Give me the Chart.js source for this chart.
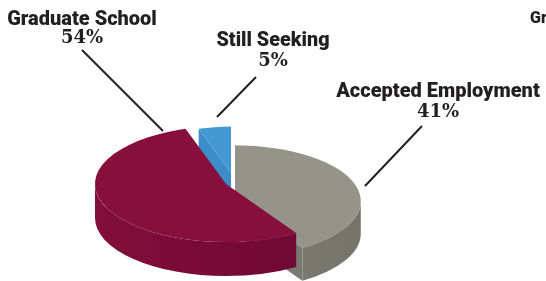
<!DOCTYPE html>
<html>
<head>
<meta charset="utf-8">
<script src="https://cdn.jsdelivr.net/npm/chart.js@4"></script>
<style>
  html, body { margin: 0; padding: 0; background: #fff; overflow: hidden; }
  #wrap { width: 546px; height: 281px; position: relative; }
</style>
</head>
<body>
<div id="wrap"><canvas id="pieChart"></canvas></div>
<script>
const categories = ['Accepted Employment', 'Graduate School', 'Still Seeking'];
const shares = [41, 54, 5];
const topColors = ['#95948a', '#870f3b', '#4498d4'];
const wallColors = [['#8c8b81', '#74746a'], ['#820e39', '#6a0731'], ['#3f91cd', '#3787c4']];

// squash + thickness for the fake 3D disc
const TILT = 0.443;
const DEPTH = 34;
// how far each slice is pulled out (screen px) and a fake-perspective size factor
const pullOut = [[9, 17], [0, 0], [5, -11]];
const sliceScale = [0.96, 1, 0.8];
const drawOrder = [2, 0, 1];

// where the callouts sit
const labelSpots = [
  { x: 438, y: 97, py: 117, w: 207, line: [422, 126, 365, 186] },
  { x: 82, y: 25, py: 43, w: 151, line: [82, 50, 163, 131] },
  { x: 273, y: 46, py: 66, w: 113, line: [256, 77, 217, 117] }
];

const fake3d = {
  id: 'fake3d',
  beforeDatasetsDraw(chart) {
    const ctx = chart.ctx;
    const arcs = chart.getDatasetMeta(0).data;
    drawOrder.forEach(i => {
      const arc = arcs[i];
      const k = sliceScale[i];
      const R = arc.outerRadius * k;
      const D = DEPTH * k;
      const X = arc.x + pullOut[i][0];
      const Y = arc.y + pullOut[i][1];
      const a0 = arc.startAngle, a1 = arc.endAngle;
      const rim = a => [X + R * Math.cos(a), Y + R * TILT * Math.sin(a)];

      const grad = ctx.createLinearGradient(X - R, 0, X + R, 0);
      grad.addColorStop(0, wallColors[i][0]);
      grad.addColorStop(1, wallColors[i][1]);
      ctx.save();
      ctx.fillStyle = grad;

      // cut faces that look toward the viewer
      [[a0, Math.cos(a0) < -0.01], [a1, Math.cos(a1) > 0.01]].forEach(([a, show]) => {
        if (!show) return;
        const [rx, ry] = rim(a);
        ctx.beginPath();
        ctx.moveTo(X, Y);
        ctx.lineTo(rx, ry);
        ctx.lineTo(rx, ry + D);
        ctx.lineTo(X, Y + D);
        ctx.closePath();
        ctx.fill();
      });

      // front part of the outer wall
      for (let n = -1; n <= 1; n++) {
        const lo = Math.max(a0, 2 * Math.PI * n);
        const hi = Math.min(a1, Math.PI + 2 * Math.PI * n);
        if (hi <= lo) continue;
        ctx.beginPath();
        ctx.ellipse(X, Y, R, R * TILT, 0, lo, hi);
        ctx.ellipse(X, Y + D, R, R * TILT, 0, hi, lo, true);
        ctx.closePath();
        ctx.fill();
      }
      ctx.restore();

      // top face: the library's own arc, squashed
      ctx.save();
      ctx.translate(X, Y);
      ctx.scale(k, TILT * k);
      ctx.translate(-arc.x, -arc.y);
      arc.draw(ctx);
      ctx.restore();
    });
    return false;
  }
};

const callouts = {
  id: 'callouts',
  afterDraw(chart) {
    const ctx = chart.ctx;
    ctx.save();
    ctx.fillStyle = '#231f20';
    ctx.strokeStyle = '#231f20';
    ctx.textAlign = 'center';
    ctx.textBaseline = 'alphabetic';
    categories.forEach((name, i) => {
      const s = labelSpots[i];
      ctx.font = '900 20px Roboto';
      ctx.fillText(name, s.x, s.y, s.w);
      ctx.font = 'bold 18px "DejaVu Serif"';
      ctx.fillText(shares[i] + '%', s.x, s.py);
      ctx.lineWidth = 2;
      ctx.beginPath();
      ctx.moveTo(s.line[0], s.line[1]);
      ctx.lineTo(s.line[2], s.line[3]);
      ctx.stroke();
    });
    // next chart's title peeking in at the right edge
    ctx.textAlign = 'left';
    ctx.font = '900 16px Roboto';
    ctx.fillText('Graduate School', 530, 23);
    ctx.restore();
  }
};

new Chart(document.getElementById('pieChart'), {
  type: 'pie',
  data: {
    labels: categories,
    datasets: [{
      data: shares,
      backgroundColor: topColors,
      borderWidth: 0
    }]
  },
  options: {
    responsive: true,
    maintainAspectRatio: false,
    animation: false,
    events: [],
    radius: 131,
    layout: { padding: { left: 0, right: 94, top: 87, bottom: 0 } },
    plugins: {
      legend: { display: false },
      tooltip: { enabled: false }
    }
  },
  plugins: [fake3d, callouts]
});
</script>
</body>
</html>
